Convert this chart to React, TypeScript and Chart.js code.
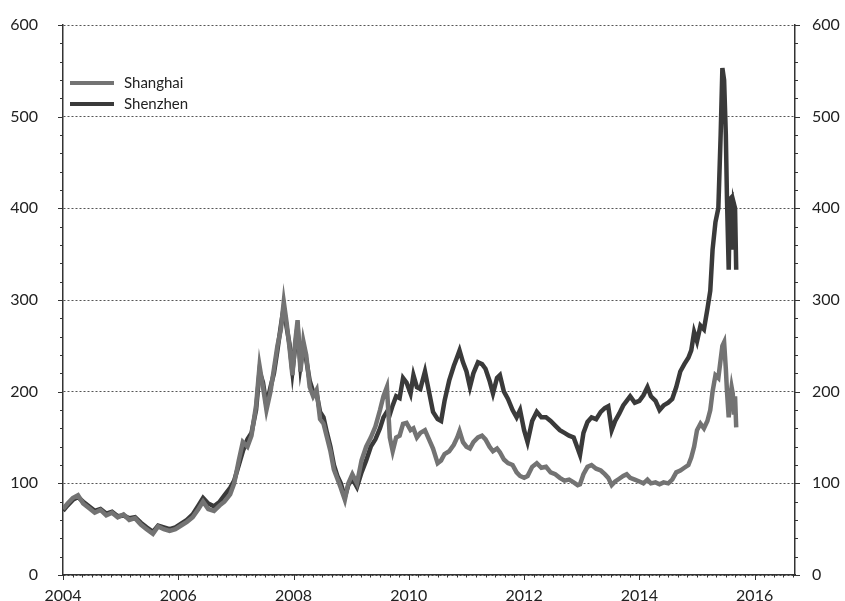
import React, { useEffect, useRef } from "react";
import { Chart, registerables } from "chart.js";

Chart.register(...registerables);

const seriesNames = ["Shanghai", "Shenzhen"];

const dates = [
  2004.0, 2004.08, 2004.17, 2004.26, 2004.35, 2004.45, 2004.55, 2004.65, 2004.75, 2004.85,
  2004.95, 2005.05, 2005.15, 2005.25, 2005.35, 2005.45, 2005.56, 2005.65, 2005.75, 2005.85,
  2005.95, 2006.05, 2006.15, 2006.25, 2006.35, 2006.43, 2006.52, 2006.62, 2006.72, 2006.8,
  2006.9, 2006.97, 2007.05, 2007.12, 2007.2, 2007.27, 2007.35, 2007.41, 2007.47, 2007.53,
  2007.6, 2007.66, 2007.72, 2007.78, 2007.83, 2007.88, 2007.93, 2007.98, 2008.03, 2008.07,
  2008.12, 2008.17, 2008.22, 2008.28, 2008.34, 2008.4, 2008.46, 2008.52, 2008.58, 2008.64,
  2008.7, 2008.76, 2008.82, 2008.89, 2008.95, 2009.02, 2009.1, 2009.18, 2009.26, 2009.34,
  2009.42, 2009.5, 2009.56, 2009.62, 2009.67, 2009.72, 2009.78, 2009.84, 2009.9, 2009.96,
  2010.03, 2010.08, 2010.14, 2010.2, 2010.28, 2010.35, 2010.42, 2010.5, 2010.56, 2010.62,
  2010.7, 2010.78, 2010.84, 2010.88, 2010.94, 2011.0, 2011.06, 2011.12, 2011.2, 2011.27,
  2011.33, 2011.4, 2011.46, 2011.53, 2011.58, 2011.65, 2011.72, 2011.8, 2011.87, 2011.93,
  2012.0, 2012.06, 2012.14, 2012.22, 2012.3, 2012.38, 2012.46, 2012.54, 2012.62, 2012.7,
  2012.78, 2012.86, 2012.93, 2012.97, 2013.03, 2013.1, 2013.17, 2013.25, 2013.33, 2013.4,
  2013.46, 2013.52, 2013.58, 2013.65, 2013.72, 2013.78, 2013.84, 2013.92, 2014.0, 2014.07,
  2014.14, 2014.2, 2014.28, 2014.35, 2014.42, 2014.5, 2014.57, 2014.64, 2014.71, 2014.78,
  2014.85, 2014.9, 2014.95, 2015.0, 2015.06, 2015.12, 2015.18, 2015.23, 2015.27, 2015.32,
  2015.37, 2015.41, 2015.44, 2015.47, 2015.5, 2015.52, 2015.55, 2015.57, 2015.6, 2015.62,
  2015.64, 2015.66, 2015.68,
];

const shanghai = [
  72, 78, 84, 87, 78, 73, 68, 71, 65, 68,
  63, 66, 60, 62, 55, 50, 45, 53, 50, 48,
  50, 54, 58, 63, 72, 80, 72, 70, 76, 80,
  88, 100, 125, 145, 140, 152, 185, 228, 205, 180,
  200, 225, 250, 268, 298, 275, 248, 218, 255, 278,
  222, 255, 240, 205, 195, 202, 170, 165, 150, 135,
  115, 105, 95, 82, 100, 110, 100, 125, 140, 150,
  162, 180, 195, 205, 150, 135, 150, 152, 165, 166,
  158, 160, 150, 155, 158, 148, 138, 122, 125, 132,
  135, 142, 150, 157, 145, 140, 138, 145, 150, 152,
  148, 140, 135, 138, 134, 126, 122, 120, 112, 108,
  106, 108, 118, 122, 117, 118, 112, 110, 106, 103,
  104, 101, 98, 99, 110, 118, 120, 116, 114, 110,
  106, 98, 102, 105, 108, 110, 106, 104, 102, 100,
  104, 100, 101, 99, 101, 100, 104, 112, 114, 117,
  120, 128, 140, 158, 165, 160, 168, 180, 200, 218,
  215, 235, 250, 254, 225, 200, 172, 190, 205, 198,
  175, 195, 161,
];

const shenzhen = [
  70, 76, 82, 85, 80, 75, 70, 72, 67, 69,
  64, 65, 62, 63, 57, 52, 47, 54, 52, 50,
  52, 56, 60, 66, 76, 84, 78, 75, 80, 87,
  95, 103, 120, 135, 148, 155, 180, 222, 210, 185,
  205, 220, 245, 272, 292, 270, 252, 222, 250, 272,
  228, 250, 235, 212, 200, 198, 178, 172, 155, 140,
  120, 108, 100, 85, 98, 105, 96, 112, 125, 140,
  148, 160, 172, 178, 175, 185, 195, 193, 215, 210,
  198, 218, 205, 203, 222, 200, 178, 170, 168, 190,
  212, 228, 238, 245, 232, 222, 205, 220, 232, 230,
  225, 212, 198, 215, 218, 200, 192, 180, 172, 180,
  158, 145, 168, 178, 172, 172, 168, 163, 158, 155,
  152, 150, 138, 131, 155, 167, 172, 170, 178, 182,
  184, 158, 168, 176, 185, 190, 195, 188, 190, 196,
  205, 195, 190, 180, 185, 188, 192, 205, 222, 230,
  237, 245, 265, 255, 272, 268, 290, 310, 355, 385,
  400, 480, 553, 540, 480, 410, 333, 410, 412, 355,
  405, 400, 333,
];

const xTickYears = [2004, 2006, 2008, 2010, 2012, 2014, 2016];
const yTickValues = [0, 100, 200, 300, 400, 500, 600];
const seriesColors = ["#737373", "#3a3a3a"];

const X_MIN = 2004;
const X_MAX = 2016.7;
const FONT = "Lato, 'Open Sans', sans-serif";

const decorPlugin = {
  id: "decor",
  afterDraw(chart: any) {
    const { ctx, chartArea, scales } = chart;
    const xs = scales.x;
    const ys = scales.y;
    ctx.save();
    ctx.strokeStyle = "#333";
    ctx.lineWidth = 1;
    ctx.setLineDash([]);
    for (let v = 0; v <= 600; v += 20) {
      const py = Math.round(ys.getPixelForValue(v)) + 0.5;
      const len = v % 100 === 0 ? 5 : 3;
      ctx.beginPath();
      ctx.moveTo(chartArea.left - len, py);
      ctx.lineTo(chartArea.left, py);
      ctx.moveTo(chartArea.right, py);
      ctx.lineTo(chartArea.right + len, py);
      ctx.stroke();
    }
    for (let i = 0; ; i++) {
      const v = X_MIN + i / 6;
      if (v > X_MAX + 1e-9) break;
      const px = Math.round(xs.getPixelForValue(v)) + 0.5;
      const len = i % 12 === 0 ? 5 : 2.5;
      ctx.beginPath();
      ctx.moveTo(px, chartArea.bottom);
      ctx.lineTo(px, chartArea.bottom + len);
      ctx.stroke();
    }
    const legendY = [83, 104];
    seriesNames.forEach((name, i) => {
      ctx.strokeStyle = seriesColors[i];
      ctx.lineWidth = 4;
      ctx.beginPath();
      ctx.moveTo(70, legendY[i]);
      ctx.lineTo(114, legendY[i]);
      ctx.stroke();
      ctx.fillStyle = "#222";
      ctx.font = "15px " + FONT;
      ctx.textBaseline = "middle";
      ctx.textAlign = "left";
      ctx.fillText(name, 124, legendY[i]);
    });
    ctx.restore();
  },
};

export default function App() {
  const ref = useRef<HTMLCanvasElement | null>(null);

  useEffect(() => {
    if (!ref.current) return;
    const chart = new Chart(ref.current, {
      type: "line",
      data: {
        datasets: [
          {
            label: seriesNames[0],
            data: dates.map((d, i) => ({ x: d, y: shanghai[i] })),
            borderColor: seriesColors[0],
            borderWidth: 4.5,
            pointRadius: 0,
            tension: 0,
            fill: false,
          },
          {
            label: seriesNames[1],
            data: dates.map((d, i) => ({ x: d, y: shenzhen[i] })),
            borderColor: seriesColors[1],
            borderWidth: 4.5,
            pointRadius: 0,
            tension: 0,
            fill: false,
          },
        ],
      },
      options: {
        responsive: false,
        animation: false,
        layout: { padding: { top: 25, left: 0, right: 0, bottom: 0 } },
        plugins: { legend: { display: false }, tooltip: { enabled: false } },
        scales: {
          x: {
            type: "linear",
            position: "bottom",
            min: X_MIN,
            max: X_MAX,
            grid: { display: false },
            border: { display: true, color: "#333", width: 1.5 },
            ticks: {
              font: { family: FONT, size: 16 },
              color: "#222",
              padding: 3,
              maxRotation: 0,
              autoSkip: false,
              callback: (v: any) => String(v),
            },
            afterBuildTicks: (s: any) => {
              s.ticks = xTickYears.map((v) => ({ value: v }));
            },
            afterFit: (s: any) => {
              s.height = 26;
            },
          },
          y: {
            position: "left",
            min: 0,
            max: 600,
            grid: {
              color: "#555",
              lineWidth: 1,
              drawTicks: true,
              tickLength: 22,
              tickColor: "rgba(0,0,0,0)",
            },
            border: { display: true, color: "#333", width: 1.5, dash: [2, 2] },
            ticks: {
              font: { family: FONT, size: 16 },
              color: "#222",
              padding: 3,
              callback: (v: any) => String(v),
            },
            afterBuildTicks: (s: any) => {
              s.ticks = yTickValues.map((v) => ({ value: v }));
            },
            afterFit: (s: any) => {
              s.width = 63;
            },
          },
          y2: {
            position: "right",
            min: 0,
            max: 600,
            grid: {
              drawOnChartArea: false,
              drawTicks: true,
              tickLength: 14,
              tickColor: "rgba(0,0,0,0)",
              color: "rgba(0,0,0,0)",
            },
            border: { display: true, color: "#333", width: 1.5 },
            ticks: {
              font: { family: FONT, size: 16 },
              color: "#222",
              padding: 3,
              callback: (v: any) => String(v),
            },
            afterBuildTicks: (s: any) => {
              s.ticks = yTickValues.map((v) => ({ value: v }));
            },
            afterFit: (s: any) => {
              s.width = 50;
            },
          },
        },
      },
      plugins: [decorPlugin],
    } as any);
    return () => chart.destroy();
  }, []);

  return (
    <div style={{ position: "absolute", left: 0, top: 0, width: 845, height: 601, background: "#fff" }}>
      <canvas ref={ref} width={845} height={601} style={{ display: "block" }} />
    </div>
  );
}
